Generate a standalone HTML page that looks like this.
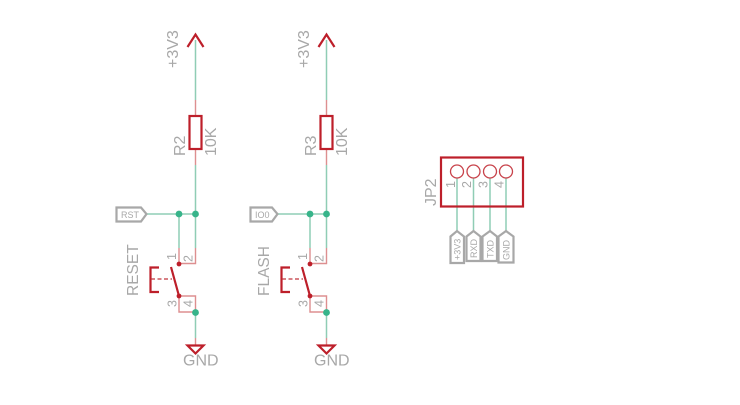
<!DOCTYPE html>
<html>
<head>
<meta charset="utf-8">
<style>
html,body{margin:0;padding:0;background:#fff;}
svg{display:block;}
text{font-family:"Liberation Sans",sans-serif;fill:#a8a8a8;}
.w{stroke:#8fcdb5;stroke-width:1.5;fill:none;}
.r{stroke:#dd8f90;stroke-width:1.4;fill:none;}
.s{stroke:#bd1f2a;stroke-width:2.2;fill:none;}
.f{stroke:#a8a8a8;stroke-width:2.2;fill:#fff;}
.j{fill:#37b48a;}
.d{fill:#bd1f2a;}
</style>
</head>
<body>
<svg width="740" height="405" viewBox="0 0 740 405" xmlns="http://www.w3.org/2000/svg">

<!-- LEFT CIRCUIT -->
<g>
<path class="w" d="M195.500 40V100M195.500 165V248M179 214V248M146 214H195.500M195.500 312V338"/>
<path class="r" d="M195.500 100V116M195.500 149V165M179 248V264M195.500 248V263.500H179M179 296V312H195.500V296H179M195.500 338V345"/>
<path class="s" d="M187.500 47L195.500 34.500L203.500 47"/>
<rect class="s" x="189.500" y="116" width="12" height="33"/>
<circle class="j" cx="179" cy="214" r="3.400"/>
<circle class="j" cx="195.500" cy="214" r="3.400"/>
<circle class="j" cx="195.500" cy="312.500" r="3.400"/>
<circle class="d" cx="179" cy="264" r="2.400"/>
<circle class="d" cx="179" cy="296" r="2.400"/>
<path class="s" d="M171 267L179 296M159 267.500H150.500V292H159"/>
<path d="M151 279H172" stroke="#c0343c" stroke-width="1.300" stroke-dasharray="4 2.500" fill="none"/>
<path class="s" d="M187.500 345.500H203.500L195.500 353.500Z"/>
<path class="f" d="M116.500 207.500H141L146.500 214L141 221.500H116.500Z"/>
<text x="121" y="218" font-size="9">RST</text>
<text transform="translate(178,68) rotate(-90)" font-size="16">+3V3</text>
<text transform="translate(185,156) rotate(-90)" font-size="16">R2</text>
<text transform="translate(216,156) rotate(-90)" font-size="16">10K</text>
<text transform="translate(138,296) rotate(-90)" font-size="15.500">RESET</text>
<text transform="translate(176,260) rotate(-90)" font-size="12.500">1</text>
<text transform="translate(192.500,262) rotate(-90)" font-size="12.500">2</text>
<text transform="translate(176.500,307) rotate(-90)" font-size="12.500">3</text>
<text transform="translate(192.500,307) rotate(-90)" font-size="12.500">4</text>
<text x="183" y="365.500" font-size="16">GND</text>
</g>

<!-- MIDDLE CIRCUIT -->
<g>
<path class="w" d="M326.500 40V100M326.500 165V248M310 214V248M277 214H326.500M326.500 312V338"/>
<path class="r" d="M326.500 100V116M326.500 149V165M310 248V264M326.500 248V263.500H310M310 296V312H326.500V296H310M326.500 338V345"/>
<path class="s" d="M318.500 47L326.500 34.500L334.500 47"/>
<rect class="s" x="320.500" y="116" width="12" height="33"/>
<circle class="j" cx="310" cy="214" r="3.400"/>
<circle class="j" cx="326.500" cy="214" r="3.400"/>
<circle class="j" cx="326.500" cy="312.500" r="3.400"/>
<circle class="d" cx="310" cy="264" r="2.400"/>
<circle class="d" cx="310" cy="296" r="2.400"/>
<path class="s" d="M302 267L310 296M290 267.500H281.500V292H290"/>
<path d="M282 279H303" stroke="#c0343c" stroke-width="1.300" stroke-dasharray="4 2.500" fill="none"/>
<path class="s" d="M318.500 345.500H334.500L326.500 353.500Z"/>
<path class="f" d="M250.500 207.500H272L277.500 214L272 221.500H250.500Z"/>
<text x="255" y="218" font-size="9">IO0</text>
<text transform="translate(309,68) rotate(-90)" font-size="16">+3V3</text>
<text transform="translate(316,156) rotate(-90)" font-size="16">R3</text>
<text transform="translate(347,156) rotate(-90)" font-size="16">10K</text>
<text transform="translate(269,296) rotate(-90)" font-size="15.500">FLASH</text>
<text transform="translate(307,260) rotate(-90)" font-size="12.500">1</text>
<text transform="translate(323.500,262) rotate(-90)" font-size="12.500">2</text>
<text transform="translate(307.500,307) rotate(-90)" font-size="12.500">3</text>
<text transform="translate(323.500,307) rotate(-90)" font-size="12.500">4</text>
<text x="314" y="365.500" font-size="16">GND</text>
</g>

<!-- JP2 -->
<g>
<path class="w" d="M457 178V231M473.500 178V231M490 178V231M506 178V231"/>
<rect class="s" x="441" y="157.500" width="82" height="49"/>
<circle cx="457" cy="171.500" r="6.500" fill="none" stroke="#c8434b" stroke-width="1.300"/>
<circle cx="473.500" cy="171.500" r="6.500" fill="none" stroke="#c8434b" stroke-width="1.300"/>
<circle cx="490" cy="171.500" r="6.500" fill="none" stroke="#c8434b" stroke-width="1.300"/>
<circle cx="506" cy="171.500" r="6.500" fill="none" stroke="#c8434b" stroke-width="1.300"/>
<path class="f" d="M450.500 236.500L457 231L464 236.500V263H450.500Z"/>
<path class="f" d="M466.500 236.500L473.500 231L480.500 236.500V261H466.500Z"/>
<path class="f" d="M482.500 236.500L490 231L497 236.500V261H482.500Z"/>
<path class="f" d="M498.500 236.500L506 231L513.500 236.500V262.500H498.500Z"/>
<text transform="translate(460.500,260) rotate(-90)" font-size="9">+3V3</text>
<text transform="translate(477,258) rotate(-90)" font-size="9">RXD</text>
<text transform="translate(493.500,258) rotate(-90)" font-size="9">TXD</text>
<text transform="translate(509.500,260) rotate(-90)" font-size="9">GND</text>
<text transform="translate(436,206) rotate(-90)" font-size="16">JP2</text>
<text transform="translate(455,188) rotate(-90)" font-size="12.500">1</text>
<text transform="translate(471,188) rotate(-90)" font-size="12.500">2</text>
<text transform="translate(487.500,188) rotate(-90)" font-size="12.500">3</text>
<text transform="translate(503.500,188) rotate(-90)" font-size="12.500">4</text>
</g>
</svg>
</body>
</html>
